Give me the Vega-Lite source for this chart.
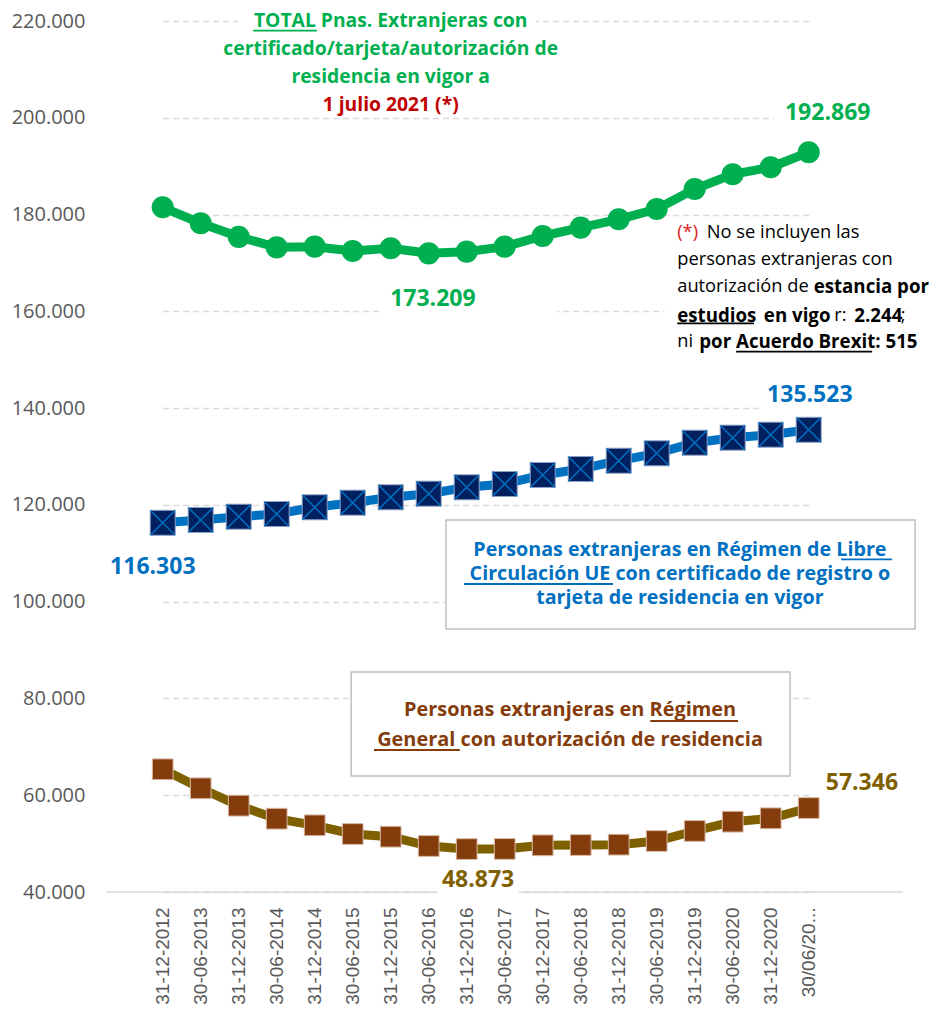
{
  "$schema": "https://vega.github.io/schema/vega-lite/v6.json",
  "width": 801,
  "height": 871,
  "autosize": "none",
  "padding": {"left": 107, "top": 21, "right": 26, "bottom": 119},
  "background": "white",
  "config": {
    "locale": {"number": {"decimal": ",", "thousands": ".", "grouping": [3], "currency": ["", " €"]}},
    "view": {"stroke": null},
    "font": "Open Sans",
    "axisY": {"labelFont": "Open Sans", "labelFontSize": 20, "labelColor": "#595959", "labelPadding": 22, "ticks": false, "domain": false, "grid": true, "gridColor": "#D9D9D9", "gridDash": [6, 4], "gridWidth": 1.5},
    "axisX": {"labelFont": "Liberation Sans", "labelFontSize": 19, "labelColor": "#595959", "labelPadding": 15, "labelAngle": -90, "ticks": false, "grid": false, "domain": false, "labelOverlap": false}
  },
  "datasets": {
    "series": [
      {"fecha": "31-12-2012", "serie": "total", "valor": 181500},
      {"fecha": "30-06-2013", "serie": "total", "valor": 178200},
      {"fecha": "31-12-2013", "serie": "total", "valor": 175400},
      {"fecha": "30-06-2014", "serie": "total", "valor": 173230},
      {"fecha": "31-12-2014", "serie": "total", "valor": 173360},
      {"fecha": "30-06-2015", "serie": "total", "valor": 172470},
      {"fecha": "31-12-2015", "serie": "total", "valor": 173030},
      {"fecha": "30-06-2016", "serie": "total", "valor": 171990},
      {"fecha": "31-12-2016", "serie": "total", "valor": 172330},
      {"fecha": "30-06-2017", "serie": "total", "valor": 173360},
      {"fecha": "30-12-2017", "serie": "total", "valor": 175570},
      {"fecha": "30-06-2018", "serie": "total", "valor": 177290},
      {"fecha": "31-12-2018", "serie": "total", "valor": 179020},
      {"fecha": "30-06-2019", "serie": "total", "valor": 181150},
      {"fecha": "31-12-2019", "serie": "total", "valor": 185280},
      {"fecha": "30-06-2020", "serie": "total", "valor": 188320},
      {"fecha": "31-12-2020", "serie": "total", "valor": 189770},
      {"fecha": "30/06/20...", "serie": "total", "valor": 192869},
      {"fecha": "31-12-2012", "serie": "ue", "valor": 116303},
      {"fecha": "30-06-2013", "serie": "ue", "valor": 116880},
      {"fecha": "31-12-2013", "serie": "ue", "valor": 117560},
      {"fecha": "30-06-2014", "serie": "ue", "valor": 118120},
      {"fecha": "31-12-2014", "serie": "ue", "valor": 119500},
      {"fecha": "30-06-2015", "serie": "ue", "valor": 120455},
      {"fecha": "31-12-2015", "serie": "ue", "valor": 121570},
      {"fecha": "30-06-2016", "serie": "ue", "valor": 122315},
      {"fecha": "31-12-2016", "serie": "ue", "valor": 123635},
      {"fecha": "30-06-2017", "serie": "ue", "valor": 124320},
      {"fecha": "30-12-2017", "serie": "ue", "valor": 126180},
      {"fecha": "30-06-2018", "serie": "ue", "valor": 127420},
      {"fecha": "31-12-2018", "serie": "ue", "valor": 129130},
      {"fecha": "30-06-2019", "serie": "ue", "valor": 130660},
      {"fecha": "31-12-2019", "serie": "ue", "valor": 132850},
      {"fecha": "30-06-2020", "serie": "ue", "valor": 133890},
      {"fecha": "31-12-2020", "serie": "ue", "valor": 134510},
      {"fecha": "30/06/20...", "serie": "ue", "valor": 135523},
      {"fecha": "31-12-2012", "serie": "general", "valor": 65360},
      {"fecha": "30-06-2013", "serie": "general", "valor": 61430},
      {"fecha": "31-12-2013", "serie": "general", "valor": 57840},
      {"fecha": "30-06-2014", "serie": "general", "valor": 55150},
      {"fecha": "31-12-2014", "serie": "general", "valor": 53780},
      {"fecha": "30-06-2015", "serie": "general", "valor": 51990},
      {"fecha": "31-12-2015", "serie": "general", "valor": 51430},
      {"fecha": "30-06-2016", "serie": "general", "valor": 49506},
      {"fecha": "31-12-2016", "serie": "general", "valor": 48873},
      {"fecha": "30-06-2017", "serie": "general", "valor": 48900},
      {"fecha": "30-12-2017", "serie": "general", "valor": 49650},
      {"fecha": "30-06-2018", "serie": "general", "valor": 49710},
      {"fecha": "31-12-2018", "serie": "general", "valor": 49780},
      {"fecha": "30-06-2019", "serie": "general", "valor": 50540},
      {"fecha": "31-12-2019", "serie": "general", "valor": 52610},
      {"fecha": "30-06-2020", "serie": "general", "valor": 54530},
      {"fecha": "31-12-2020", "serie": "general", "valor": 55230},
      {"fecha": "30/06/20...", "serie": "general", "valor": 57346}
    ],
    "cajas": [
      {"tipo": "base", "i0": -1.49, "i1": 19.48, "v0": 40000, "v1": 40000},
      {"tipo": "fondo", "i0": 1.98, "i1": 9.82, "v0": 223700, "v1": 201000},
      {"tipo": "fondo", "i0": 16.09, "i1": 18.95, "v0": 204300, "v1": 197480},
      {"tipo": "fondo", "i0": 5.74, "i1": 10.38, "v0": 165440, "v1": 158620},
      {"tipo": "fondo", "i0": 13.2, "i1": 20.3, "v0": 179290, "v1": 150770},
      {"tipo": "fondo", "i0": 15.77, "i1": 18.75, "v0": 145810, "v1": 139200},
      {"tipo": "fondo", "i0": 17.33, "i1": 19.48, "v0": 65626, "v1": 59013},
      {"tipo": "fondo", "i0": 7.22, "i1": 9.38, "v0": 45373, "v1": 39380},
      {"tipo": "marco", "i0": 7.455, "i1": 19.8, "v0": 116880, "v1": 94350},
      {"tipo": "marco", "i0": 4.96, "i1": 16.51, "v0": 85465, "v1": 63973}
    ],
    "etiquetas": [
      {"grupo": "titulo", "texto": "TOTAL Pnas. Extranjeras con", "indice": 6, "valor": 220000},
      {"grupo": "titulo", "texto": "certificado/tarjeta/autorización de", "indice": 6, "valor": 214150},
      {"grupo": "titulo", "texto": "residencia en vigor a", "indice": 6, "valor": 208370},
      {"grupo": "titulo_rojo", "texto": "1 julio 2021 (*)", "indice": 6, "valor": 202640},
      {"grupo": "total", "texto": "192.869", "indice": 17.5, "valor": 201000},
      {"grupo": "total", "texto": "173.209", "indice": 7.11, "valor": 162550},
      {"grupo": "ue", "texto": "135.523", "indice": 17.03, "valor": 142710},
      {"grupo": "ue", "texto": "116.303", "indice": -0.26, "valor": 107100},
      {"grupo": "general", "texto": "57.346", "indice": 18.4, "valor": 62590},
      {"grupo": "general", "texto": "48.873", "indice": 8.3, "valor": 42480},
      {"grupo": "caja_ue", "texto": "Personas extranjeras en Régimen de Libre", "indice": 13.61, "valor": 110680},
      {"grupo": "caja_ue", "texto": "Circulación UE con certificado de registro o", "indice": 13.61, "valor": 105660},
      {"grupo": "caja_ue", "texto": "tarjeta de residencia en vigor", "indice": 13.61, "valor": 100820},
      {"grupo": "caja_gen", "texto": "Personas extranjeras en Régimen", "indice": 10.72, "valor": 77610},
      {"grupo": "caja_gen", "texto": "General con autorización de residencia", "indice": 10.72, "valor": 71410},
      {"grupo": "nota_r", "texto": "(*)", "indice": 13.54, "valor": 176250},
      {"grupo": "nota", "texto": "No se incluyen las", "indice": 14.32, "valor": 176250},
      {"grupo": "nota", "texto": "personas extranjeras con", "indice": 13.54, "valor": 170610},
      {"grupo": "nota", "texto": "autorización de", "indice": 13.54, "valor": 165090},
      {"grupo": "nota_b", "texto": "estancia por", "indice": 17.13, "valor": 165090},
      {"grupo": "nota_b", "texto": "estudios", "indice": 13.54, "valor": 159040},
      {"grupo": "nota_b", "texto": "en vigo", "indice": 15.82, "valor": 159040},
      {"grupo": "nota", "texto": "r:", "indice": 17.67, "valor": 159040},
      {"grupo": "nota_b", "texto": "2.244", "indice": 18.2, "valor": 159040},
      {"grupo": "nota", "texto": ";", "indice": 19.42, "valor": 159040},
      {"grupo": "nota", "texto": "ni", "indice": 13.54, "valor": 153725},
      {"grupo": "nota_b", "texto": "por Acuerdo Brexit: 515", "indice": 14.12, "valor": 153725}
    ],
    "subrayados": [
      {"grupo": "verde", "i0": 2.38, "i1": 4.06, "valor": 218000},
      {"grupo": "azul", "i0": 17.85, "i1": 19.19, "valor": 108760},
      {"grupo": "azul", "i0": 7.93, "i1": 11.85, "valor": 103650},
      {"grupo": "marron", "i0": 12.83, "i1": 15.14, "valor": 75340},
      {"grupo": "marron", "i0": 5.56, "i1": 7.82, "valor": 69350},
      {"grupo": "negro", "i0": 13.54, "i1": 15.56, "valor": 157530},
      {"grupo": "negro", "i0": 15.09, "i1": 18.67, "valor": 151660}
    ]
  },
  "resolve": {"scale": {"x": "independent"}, "axis": {"x": "independent"}},
  "layer": [
    {
      "data": {"name": "cajas"},
      "encoding": {
        "x": {"field": "i0", "type": "quantitative", "scale": {"domain": [0, 17], "range": [55.7, 701.7], "nice": false, "zero": false}, "axis": null},
        "x2": {"field": "i1"},
        "y": {"field": "v0", "type": "quantitative", "scale": {"domain": [40000, 220000], "nice": false, "zero": false}, "axis": {"title": null, "values": [40000, 60000, 80000, 100000, 120000, 140000, 160000, 180000, 200000, 220000], "format": ",.0f"}},
        "y2": {"field": "v1"}
      },
      "layer": [
        {"transform": [{"filter": "datum.tipo == 'base'"}], "mark": {"type": "rule", "color": "#D9D9D9", "strokeWidth": 1.5}},
        {"transform": [{"filter": "datum.tipo == 'fondo'"}], "mark": {"type": "rect", "fill": "white", "strokeWidth": 0}},
        {"transform": [{"filter": "datum.tipo == 'marco'"}], "mark": {"type": "rect", "fill": "white", "stroke": "#BFBFBF", "strokeWidth": 1.5}}
      ]
    },
    {
      "data": {"name": "series"},
      "encoding": {
        "x": {
          "field": "fecha", "type": "ordinal",
          "scale": {"type": "point", "domain": ["31-12-2012", "30-06-2013", "31-12-2013", "30-06-2014", "31-12-2014", "30-06-2015", "31-12-2015", "30-06-2016", "31-12-2016", "30-06-2017", "30-12-2017", "30-06-2018", "31-12-2018", "30-06-2019", "31-12-2019", "30-06-2020", "31-12-2020", "30/06/20..."], "range": [55.7, 701.7], "padding": 0},
          "axis": {"title": null}
        },
        "y": {
          "field": "valor", "type": "quantitative",
          "scale": {"domain": [40000, 220000], "nice": false, "zero": false},
          "axis": {"title": null, "values": [40000, 60000, 80000, 100000, 120000, 140000, 160000, 180000, 200000, 220000], "format": ",.0f"}
        }
      },
      "layer": [
        {"transform": [{"filter": "datum.serie == 'total'"}], "mark": {"type": "line", "color": "#00B050", "strokeWidth": 9}},
        {"transform": [{"filter": "datum.serie == 'total'"}], "mark": {"type": "point", "shape": "circle", "filled": true, "size": 490, "color": "#00B050", "opacity": 1}},
        {"transform": [{"filter": "datum.serie == 'ue'"}], "mark": {"type": "line", "color": "#0070C0", "strokeWidth": 9}},
        {"transform": [{"filter": "datum.serie == 'ue'"}], "mark": {"type": "point", "shape": "square", "filled": true, "size": 625, "fill": "#002060", "stroke": "#8EA0C8", "strokeWidth": 1, "opacity": 1}},
        {"transform": [{"filter": "datum.serie == 'ue'"}], "mark": {"type": "point", "shape": "M-1,-1L1,1M1,-1L-1,1", "filled": false, "size": 600, "stroke": "#0070C0", "strokeWidth": 1.5, "opacity": 1}},
        {"transform": [{"filter": "datum.serie == 'general'"}], "mark": {"type": "line", "color": "#7F6000", "strokeWidth": 9}},
        {"transform": [{"filter": "datum.serie == 'general'"}], "mark": {"type": "point", "shape": "square", "filled": true, "size": 430, "fill": "#843C0C", "stroke": "#D8B8A4", "strokeWidth": 1, "opacity": 1}}
      ]
    },
    {
      "layer": [
        {
          "data": {"name": "subrayados"},
          "mark": {"type": "rule", "strokeWidth": 1.8},
          "encoding": {
            "x": {"field": "i0", "type": "quantitative", "scale": {"domain": [0, 17], "range": [55.7, 701.7], "nice": false, "zero": false}, "axis": null},
            "x2": {"field": "i1"},
            "y": {"field": "valor", "type": "quantitative", "scale": {"domain": [40000, 220000], "nice": false, "zero": false}, "axis": {"title": null, "values": [40000, 60000, 80000, 100000, 120000, 140000, 160000, 180000, 200000, 220000], "format": ",.0f"}},
            "color": {"field": "grupo", "type": "nominal", "scale": {"domain": ["verde", "azul", "marron", "negro"], "range": ["#00B050", "#0070C0", "#843C0C", "#000000"]}, "legend": null}
          }
        },
        {
          "data": {"name": "etiquetas"},
          "encoding": {
            "x": {"field": "indice", "type": "quantitative", "scale": {"domain": [0, 17], "range": [55.7, 701.7], "nice": false, "zero": false}, "axis": null},
            "y": {"field": "valor", "type": "quantitative", "scale": {"domain": [40000, 220000], "nice": false, "zero": false}, "axis": {"title": null, "values": [40000, 60000, 80000, 100000, 120000, 140000, 160000, 180000, 200000, 220000], "format": ",.0f"}},
            "text": {"field": "texto"}
          },
          "layer": [
            {"transform": [{"filter": "datum.grupo == 'titulo'"}], "mark": {"type": "text", "font": "Open Sans", "fontSize": 19.3, "fontWeight": "bold", "color": "#00B050", "align": "center", "baseline": "middle"}},
            {"transform": [{"filter": "datum.grupo == 'titulo_rojo'"}], "mark": {"type": "text", "font": "Open Sans", "fontSize": 19.3, "fontWeight": "bold", "color": "#C00000", "align": "center", "baseline": "middle"}},
            {"transform": [{"filter": "datum.grupo == 'total'"}], "mark": {"type": "text", "font": "Open Sans", "fontSize": 23, "fontWeight": "bold", "color": "#00B050", "align": "center", "baseline": "middle"}},
            {"transform": [{"filter": "datum.grupo == 'ue'"}], "mark": {"type": "text", "font": "Open Sans", "fontSize": 23, "fontWeight": "bold", "color": "#0070C0", "align": "center", "baseline": "middle"}},
            {"transform": [{"filter": "datum.grupo == 'general'"}], "mark": {"type": "text", "font": "Open Sans", "fontSize": 23, "fontWeight": "bold", "color": "#7F6000", "align": "center", "baseline": "middle"}},
            {"transform": [{"filter": "datum.grupo == 'caja_ue'"}], "mark": {"type": "text", "font": "Open Sans", "fontSize": 19.7, "fontWeight": "bold", "color": "#0070C0", "align": "center", "baseline": "middle"}},
            {"transform": [{"filter": "datum.grupo == 'caja_gen'"}], "mark": {"type": "text", "font": "Open Sans", "fontSize": 19.9, "fontWeight": "bold", "color": "#843C0C", "align": "center", "baseline": "middle"}},
            {"transform": [{"filter": "datum.grupo == 'nota'"}], "mark": {"type": "text", "font": "Open Sans", "fontSize": 18.3, "color": "#000000", "align": "left", "baseline": "middle"}},
            {"transform": [{"filter": "datum.grupo == 'nota_b'"}], "mark": {"type": "text", "font": "Open Sans", "fontSize": 18.7, "fontWeight": "bold", "color": "#000000", "align": "left", "baseline": "middle"}},
            {"transform": [{"filter": "datum.grupo == 'nota_r'"}], "mark": {"type": "text", "font": "Open Sans", "fontSize": 18.3, "color": "#E02020", "align": "left", "baseline": "middle"}}
          ]
        }
      ]
    }
  ]
}
